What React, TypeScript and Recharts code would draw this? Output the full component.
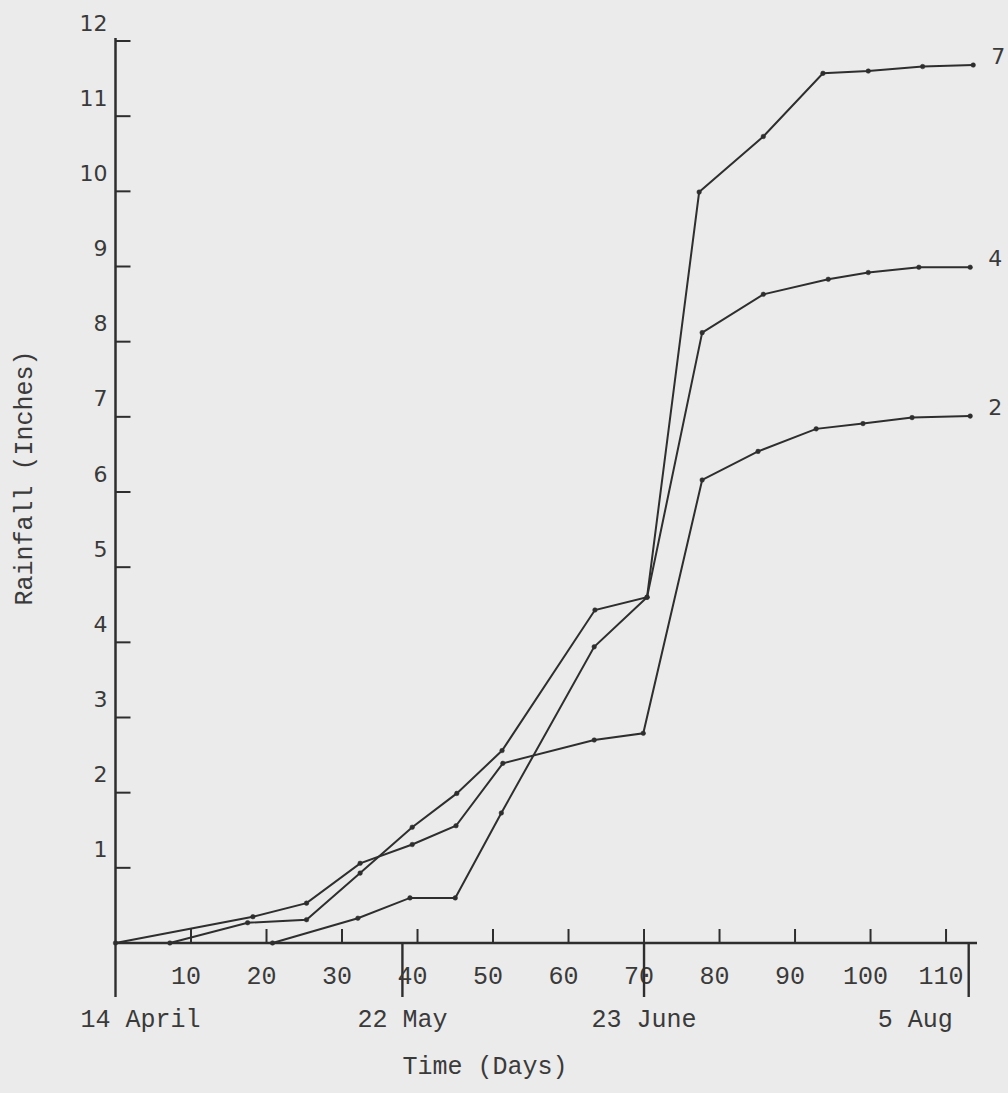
import React from 'react';
import { LineChart, Line, XAxis, YAxis, LabelList } from 'recharts';

// Series: day since 14 April, cumulative rainfall (inches)
const series7Days = [20.8, 32.1, 39.0, 45.0, 51.1, 63.4, 70.4, 77.3, 85.8, 93.7, 99.7, 106.9, 113.6];
const series7Rain = [0, 0.33, 0.6, 0.6, 1.73, 3.94, 4.6, 9.99, 10.73, 11.57, 11.6, 11.66, 11.68];

const series4Days = [7.2, 17.5, 25.3, 32.4, 39.3, 45.2, 51.2, 63.5, 70.4, 77.7, 85.8, 94.4, 99.7, 106.4, 113.2];
const series4Rain = [0, 0.27, 0.31, 0.93, 1.54, 1.99, 2.56, 4.43, 4.6, 8.12, 8.63, 8.83, 8.92, 8.99, 8.99];

const series2Days = [0, 18.2, 25.3, 32.4, 39.3, 45.1, 51.3, 63.4, 69.9, 77.7, 85.1, 92.8, 99.0, 105.5, 113.2];
const series2Rain = [0, 0.35, 0.53, 1.06, 1.31, 1.56, 2.39, 2.7, 2.79, 6.16, 6.54, 6.84, 6.91, 6.99, 7.01];

const seriesNames = ['7', '4', '2'];

const dayTicks = [10, 20, 30, 40, 50, 60, 70, 80, 90, 100, 110];
const rainTicks = [1, 2, 3, 4, 5, 6, 7, 8, 9, 10, 11, 12];
const dateTicks = [0, 38, 70, 113];
const dateLabels = ['14 April', '22 May', '23 June', '5 Aug'];

const xTitle = 'Time (Days)';
const yTitle = 'Rainfall (Inches)';

const INK = '#2e2e2e';
const TEXT = '#3a3a3a';
const BG = '#ebebeb';
const MONO = '"Liberation Mono", "DejaVu Sans Mono", monospace';
const SANS = '"DejaVu Sans", "Liberation Sans", sans-serif';

const toPoints = (days: number[], rain: number[]) => days.map((x, i) => ({ x, y: rain[i] }));
const data7 = toPoints(series7Days, series7Rain);
const data4 = toPoints(series4Days, series4Rain);
const data2 = toPoints(series2Days, series2Rain);

const allXTicks = Array.from(new Set([...dayTicks, ...dateTicks])).sort((a, b) => a - b);

const XTick = (props: any) => {
  const { x, y, payload } = props;
  const v = payload.value;
  const isDay = dayTicks.includes(v);
  const idx = dateTicks.indexOf(v);
  const last = dateTicks.length - 1;
  const anchor = idx === 0 ? 'start' : idx === last ? 'end' : 'middle';
  const dx = idx === 0 ? -35 : idx === last ? -16 : 0;
  return (
    <g>
      {isDay && (
        <g>
          <line x1={x} y1={y} x2={x} y2={y - 14} stroke={INK} strokeWidth={2} />
          <text x={x - 5} y={y + 41} textAnchor="middle" fontFamily={MONO} fontSize={25} fill={TEXT}>
            {v}
          </text>
        </g>
      )}
      {idx >= 0 && (
        <g>
          <line x1={x} y1={y} x2={x} y2={y + 54} stroke={INK} strokeWidth={2.4} />
          <text x={x + dx} y={y + 84} textAnchor={anchor} fontFamily={MONO} fontSize={25} fill={TEXT}>
            {dateLabels[idx]}
          </text>
        </g>
      )}
    </g>
  );
};

const RainTick = (props: any) => {
  const { x, y, payload } = props;
  return (
    <g>
      <line x1={x} y1={y} x2={x + 15} y2={y} stroke={INK} strokeWidth={2} />
      <text x={x - 8} y={y - 18} textAnchor="end" dominantBaseline="central" fontFamily={SANS} fontSize={22} fill={TEXT}>
        {payload.value}
      </text>
    </g>
  );
};

const endLabel = (name: string, count: number) => (p: any) => {
  if (p.index !== count - 1) return null;
  return (
    <text x={p.x + 18} y={p.y - 9} dominantBaseline="central" fontFamily={SANS} fontSize={22} fill={TEXT}>
      {name}
    </text>
  );
};

const dotStyle = { r: 2.3, fill: INK, stroke: INK, strokeWidth: 0.5 };

export default function App() {
  return (
    <div style={{ position: 'absolute', left: 0, top: 0, width: 1008, height: 1093, background: BG, overflow: 'hidden' }}>
      <LineChart width={1008} height={1093} margin={{ top: 38, right: 31, bottom: 149, left: 114.5 }}>
        <XAxis
          type="number"
          dataKey="x"
          domain={[0, 114.1]}
          ticks={allXTicks}
          interval={0}
          height={1}
          tickSize={0}
          tickMargin={0}
          tickLine={false}
          axisLine={{ stroke: INK, strokeWidth: 2.5 }}
          tick={XTick}
        />
        <YAxis
          type="number"
          domain={[0, 12.04]}
          ticks={rainTicks}
          interval={0}
          width={1}
          tickSize={0}
          tickMargin={0}
          tickLine={false}
          axisLine={{ stroke: INK, strokeWidth: 2.5 }}
          tick={RainTick}
        />
        <Line data={data7} dataKey="y" stroke={INK} strokeWidth={2} dot={dotStyle} isAnimationActive={false}>
          <LabelList dataKey="y" content={endLabel(seriesNames[0], data7.length)} />
        </Line>
        <Line data={data4} dataKey="y" stroke={INK} strokeWidth={2} dot={dotStyle} isAnimationActive={false}>
          <LabelList dataKey="y" content={endLabel(seriesNames[1], data4.length)} />
        </Line>
        <Line data={data2} dataKey="y" stroke={INK} strokeWidth={2} dot={dotStyle} isAnimationActive={false}>
          <LabelList dataKey="y" content={endLabel(seriesNames[2], data2.length)} />
        </Line>
      </LineChart>
      <div style={{ position: 'absolute', left: 385, top: 1052, width: 200, textAlign: 'center', fontFamily: MONO, fontSize: 25, color: TEXT, lineHeight: '32px' }}>
        {xTitle}
      </div>
      <div style={{ position: 'absolute', left: 26 - 150, top: 478 - 16, width: 300, height: 32, textAlign: 'center', fontFamily: MONO, fontSize: 25, color: TEXT, lineHeight: '32px', transform: 'rotate(-90deg)', transformOrigin: '150px 16px' }}>
        {yTitle}
      </div>
    </div>
  );
}
